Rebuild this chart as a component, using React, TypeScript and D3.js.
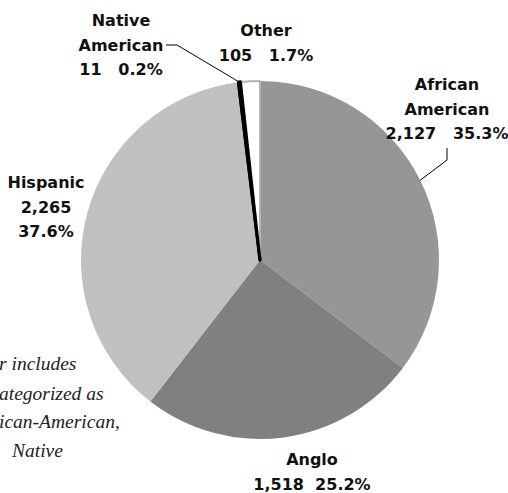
import { useEffect, useRef } from "react";
import * as d3 from "d3";

// data
const groups = ["African American", "Anglo", "Hispanic", "Native American", "Other"];
const counts = [2127, 1518, 2265, 11, 105];
const percents = ["35.3%", "25.2%", "37.6%", "0.2%", "1.7%"];
const sliceColors = ["#969696", "#808080", "#c0c0c0", "#000000", "#ffffff"];

// label lines per group (layout kept separately below)
const labelLines = [
  ["African", "American", "2,127   35.3%"],
  ["Anglo", "1,518  25.2%"],
  ["Hispanic", "2,265", "37.6%"],
  ["Native", "American", "11   0.2%"],
  ["Other", "105   1.7%"],
];

const noteLines = ["r includes", "ategorized as", "ican-American,", "Native"];

const App = () => {
  const ref = useRef<SVGSVGElement>(null);

  useEffect(() => {
    document.body.style.margin = "0";
    if (!ref.current) return;
    const svg = d3.select(ref.current);
    svg.selectAll("*").remove();

    const width = 508;
    const height = 493;
    const cx = 260;
    const cy = 260;
    const radius = 179;

    svg.attr("width", width).attr("height", height);

    const pie = d3
      .pie<number>()
      .sort(null)
      .value((d) => d);
    const arcs = pie(counts);
    const arc = d3.arc<d3.PieArcDatum<number>>().innerRadius(0).outerRadius(radius);

    const g = svg.append("g").attr("transform", `translate(${cx},${cy})`);

    g.selectAll("path")
      .data(arcs)
      .enter()
      .append("path")
      .attr("d", arc)
      .attr("fill", (_d, i) => sliceColors[i])
      .attr("stroke", (_d, i) => (i === 3 ? "#000" : i === 4 ? "#b4b4b4" : "none"))
      .attr("stroke-width", (_d, i) => (i === 3 ? 3 : i === 4 ? 2 : 0))
      .attr("stroke-linejoin", "round");

    // redraw native american on top so the black edge sits above the white slice
    g.append("path")
      .attr("d", arc(arcs[3]) as string)
      .attr("fill", "#000")
      .attr("stroke", "#000")
      .attr("stroke-width", 3)
      .attr("stroke-linejoin", "round");

    const font = "'DejaVu Sans', sans-serif";

    // label layout: centre x, first baseline y
    const labelPos = [
      { x: 447, y: 90 },
      { x: 312, y: 465 },
      { x: 46, y: 188 },
      { x: 121, y: 26 },
      { x: 266, y: 36 },
    ];
    const lineGap = 24.5;

    const labels = svg
      .append("g")
      .attr("font-family", font)
      .attr("font-weight", "bold")
      .attr("font-size", "16px")
      .attr("fill", "#111");
    labelLines.forEach((lines, i) => {
      const t = labels
        .append("text")
        .attr("text-anchor", "middle")
        .attr("xml:space", "preserve")
        .style("white-space", "pre");
      lines.forEach((line, j) => {
        t.append("tspan")
          .attr("x", labelPos[i].x)
          .attr("y", labelPos[i].y + j * lineGap)
          .text(line);
      });
    });

    // leader lines, ending on the slice's mid angle at the rim
    const rimPoint = (a: d3.PieArcDatum<number>) => {
      const mid = (a.startAngle + a.endAngle) / 2;
      return [cx + radius * Math.sin(mid), cy - radius * Math.cos(mid)];
    };
    const leaders = [
      { idx: 0, pts: [[447, 148], [447, 160]] },
      { idx: 3, pts: [[166, 45], [177, 45]] },
    ];
    leaders.forEach((l) => {
      const end = rimPoint(arcs[l.idx]);
      svg
        .append("path")
        .attr("d", d3.line()([...l.pts, end] as [number, number][]))
        .attr("fill", "none")
        .attr("stroke", "#000")
        .attr("stroke-width", 1);
    });

    // footnote, cut off at the left edge
    const notePos = [
      { x: -1, y: 370 },
      { x: -1, y: 400 },
      { x: -1, y: 428 },
      { x: 12, y: 457 },
    ];
    const note = svg
      .append("g")
      .attr("font-family", "'Liberation Serif', serif")
      .attr("font-style", "italic")
      .attr("font-size", "19.5px")
      .attr("fill", "#222");
    noteLines.forEach((line, i) => {
      note.append("text").attr("x", notePos[i].x).attr("y", notePos[i].y).text(line);
    });
  }, []);

  return <svg ref={ref} style={{ display: "block" }}></svg>;
};

export default App;
